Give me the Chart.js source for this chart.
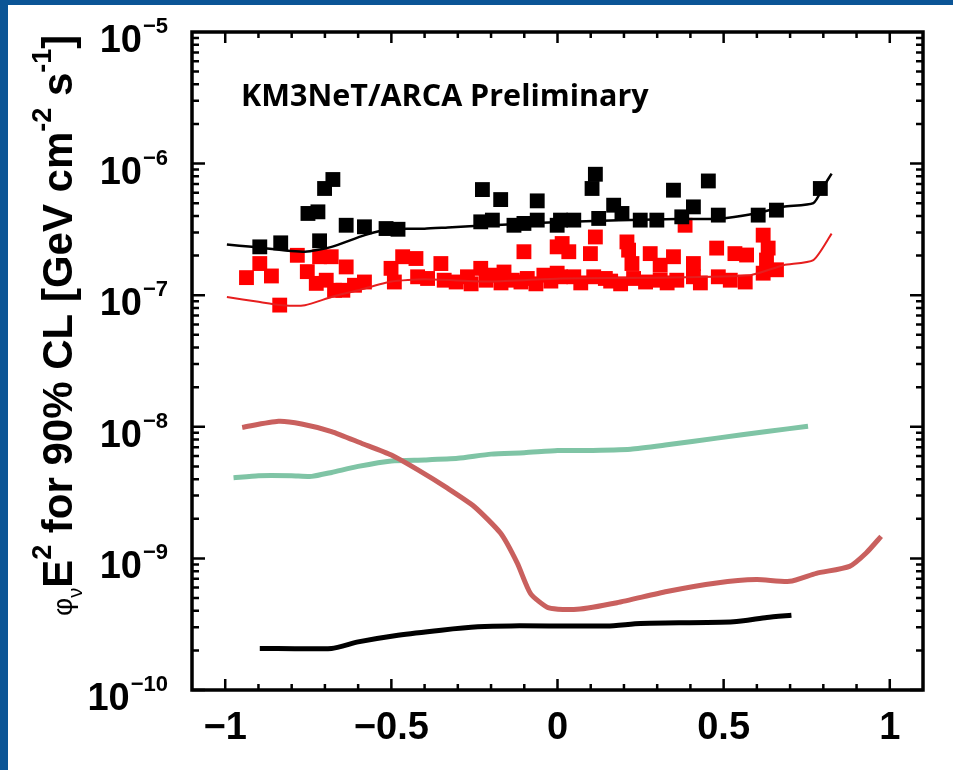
<!DOCTYPE html>
<html>
<head>
<meta charset="utf-8">
<script src="https://cdn.jsdelivr.net/npm/chart.js@4.4.0/dist/chart.umd.min.js"></script>
<style>
html,body{margin:0;padding:0;background:#fff;}
#wrap{width:953px;height:770px;position:relative;}
</style>
</head>
<body>
<div id="wrap"><canvas id="limitsChart"></canvas></div>
<script>
// ticks / labels
const xTickValues = [-1, -0.5, 0, 0.5, 1];
const xTickLabels = ["\u22121", "\u22120.5", "0", "0.5", "1"];
const yTickExps = [-10, -9, -8, -7, -6, -5];

// upper limits, black squares
const blackSqX = [-0.896,-0.833,-0.751,-0.721,-0.701,-0.676,-0.716,-0.636,-0.581,-0.516,-0.480,
  -0.226,-0.171,-0.231,-0.196,-0.131,-0.101,-0.061,-0.061,-0.001,
  0.009,0.049,0.114,0.104,0.124,0.169,0.194,0.249,0.299,0.349,0.374,0.409,0.454,0.484,0.604,0.659,0.791];
const blackSqY = [2.33e-7,2.50e-7,4.18e-7,4.30e-7,6.47e-7,7.57e-7,2.59e-7,3.40e-7,3.31e-7,3.21e-7,3.17e-7,
  6.35e-7,5.33e-7,3.61e-7,3.72e-7,3.40e-7,3.51e-7,5.21e-7,3.72e-7,3.40e-7,
  3.72e-7,3.72e-7,8.30e-7,6.47e-7,3.83e-7,4.83e-7,4.18e-7,3.72e-7,3.72e-7,6.28e-7,3.94e-7,4.69e-7,7.38e-7,4.06e-7,4.06e-7,4.43e-7,6.47e-7];

// upper limits, red squares
const redSqX = [-0.936,-0.896,-0.861,-0.836,-0.783,-0.753,-0.716,-0.681,-0.726,-0.696,-0.671,-0.636,-0.646,-0.611,-0.581,
  -0.501,-0.491,-0.466,-0.426,-0.421,-0.391,-0.351,-0.341,-0.271,-0.231,-0.201,-0.161,-0.136,-0.101,-0.091,-0.041,-0.001,-0.001,
  0.009,0.014,0.034,0.049,0.099,0.114,0.109,0.144,0.209,0.214,0.224,0.229,0.279,0.309,0.309,0.349,0.384,0.359,0.409,0.409,
  0.479,0.484,0.534,0.569,0.619,0.634,0.629,0.619,0.659,
  -0.305,-0.26,-0.215,-0.17,-0.11,-0.065,-0.02,0.07,0.16,0.19,0.265,0.43,0.52,0.565,0.33];
const redSqY = [1.36e-7,1.74e-7,1.40e-7,8.41e-8,2.01e-7,1.51e-7,1.96e-7,1.96e-7,1.23e-7,1.30e-7,1.09e-7,1.64e-7,1.09e-7,1.19e-7,1.26e-7,
  1.60e-7,1.26e-7,1.96e-7,1.90e-7,1.38e-7,1.34e-7,1.74e-7,1.30e-7,1.38e-7,1.60e-7,1.42e-7,1.50e-7,1.30e-7,2.14e-7,1.34e-7,1.42e-7,2.33e-7,1.47e-7,
  1.38e-7,2.47e-7,2.14e-7,1.38e-7,2.07e-7,2.77e-7,1.38e-7,1.34e-7,2.54e-7,2.20e-7,1.74e-7,1.34e-7,2.07e-7,1.69e-7,1.30e-7,1.96e-7,3.40e-7,1.30e-7,1.74e-7,1.38e-7,
  2.28e-7,1.38e-7,2.07e-7,2.02e-7,2.86e-7,2.28e-7,1.85e-7,1.47e-7,1.56e-7,
  1.26e-7,1.22e-7,1.30e-7,1.24e-7,1.26e-7,1.22e-7,1.28e-7,1.24e-7,1.28e-7,1.22e-7,1.26e-7,1.24e-7,1.30e-7,1.26e-7,1.24e-7];

// sensitivity, thin black
const blackSensX = [-0.995,-0.92,-0.76,-0.68,-0.58,-0.50,-0.40,-0.33,-0.20,-0.10,0.01,0.36,0.48,0.60,0.68,0.77,0.80,0.825];
const blackSensY = [2.43e-7,2.33e-7,2.14e-7,2.33e-7,2.86e-7,3.18e-7,3.20e-7,3.27e-7,3.40e-7,3.50e-7,3.60e-7,3.80e-7,3.80e-7,4.20e-7,4.70e-7,5.0e-7,6.65e-7,8.4e-7];

// sensitivity, thin red
const redSensX = [-0.995,-0.90,-0.83,-0.76,-0.68,-0.60,-0.50,-0.40,-0.20,0.01,0.30,0.58,0.68,0.77,0.825];
const redSensY = [9.7e-8,8.9e-8,8.4e-8,8.4e-8,9.7e-8,1.09e-7,1.27e-7,1.32e-7,1.27e-7,1.34e-7,1.36e-7,1.42e-7,1.69e-7,1.85e-7,2.94e-7];

// thick curves
const salmonX = [-0.949,-0.84,-0.77,-0.68,-0.59,-0.50,-0.42,-0.33,-0.25,-0.171,-0.121,-0.081,-0.026,0.059,0.179,0.329,0.479,0.599,0.699,0.779,0.879,0.929,0.974];
const salmonY = [9.9e-9,1.1e-8,1.05e-8,9.2e-9,7.5e-9,6.1e-9,4.7e-9,3.4e-9,2.47e-9,1.55e-9,9.2e-10,5.4e-10,4.2e-10,4.1e-10,4.6e-10,5.6e-10,6.5e-10,6.9e-10,6.7e-10,7.7e-10,8.7e-10,1.1e-9,1.47e-9];

const greenX = [-0.975,-0.90,-0.80,-0.74,-0.68,-0.60,-0.50,-0.40,-0.30,-0.20,-0.10,0.00,0.08,0.22,0.33,0.48,0.63,0.754];
const greenY = [4.1e-9,4.25e-9,4.25e-9,4.2e-9,4.5e-9,5.0e-9,5.5e-9,5.6e-9,5.76e-9,6.2e-9,6.35e-9,6.6e-9,6.6e-9,6.76e-9,7.3e-9,8.2e-9,9.2e-9,1.01e-8];

const lowBlackX = [-0.896,-0.68,-0.60,-0.48,-0.35,-0.24,-0.14,0.15,0.25,0.53,0.63,0.704];
const lowBlackY = [2.07e-10,2.07e-10,2.32e-10,2.61e-10,2.85e-10,3.02e-10,3.07e-10,3.07e-10,3.2e-10,3.3e-10,3.56e-10,3.7e-10];

function pts(xs, ys){
    return xs.map(function(x, i){ return {x: x, y: ys[i]}; });
}

function lineSet(xs, ys, color, width, order){
    return {
        data: pts(xs, ys),
        showLine: true,
        borderColor: color,
        borderWidth: width,
        pointRadius: 0,
        tension: 0.2,
        order: order
    };
}

function squareSet(xs, ys, color, order){
    return {
        data: pts(xs, ys),
        showLine: false,
        pointStyle: "rect",
        pointRadius: 10.5,
        pointBorderWidth: 0,
        backgroundColor: color,
        borderColor: color,
        order: order
    };
}

const SANS = "'Liberation Sans', Arial, sans-serif";

const framePlugin = {
    id: "frame",
    beforeDraw(chart){
        const ctx = chart.ctx;
        ctx.save();
        ctx.fillStyle = "#ffffff";
        ctx.fillRect(0, 0, chart.width, chart.height);
        ctx.fillStyle = "#0b5596";
        ctx.fillRect(0, 0, chart.width, 5);
        ctx.fillRect(0, 0, 8, chart.height);
        ctx.restore();
    },
    afterDraw(chart){
        const ctx = chart.ctx;
        const a = chart.chartArea;
        const xs = chart.scales.x, ys = chart.scales.y;
        ctx.save();
        ctx.strokeStyle = "#000";
        ctx.lineWidth = 3.5;
        ctx.strokeRect(a.left, a.top, a.right - a.left, a.bottom - a.top);

        // x ticks, top and bottom
        ctx.lineWidth = 2.5;
        ctx.beginPath();
        for (let i = -10; i <= 10; i++) {
            const px = xs.getPixelForValue(i / 10);
            const len = (i % 5 === 0) ? 11 : 6;
            ctx.moveTo(px, a.bottom); ctx.lineTo(px, a.bottom - len);
            ctx.moveTo(px, a.top); ctx.lineTo(px, a.top + len);
        }
        // y ticks, left and right
        for (let e = -10; e <= -6; e++) {
            for (let m = 1; m <= 9; m++) {
                const py = ys.getPixelForValue(m * Math.pow(10, e));
                const len = (m === 1) ? 13 : 7;
                ctx.moveTo(a.left, py); ctx.lineTo(a.left + len, py);
                ctx.moveTo(a.right, py); ctx.lineTo(a.right - len, py);
            }
        }
        ctx.stroke();

        // x tick labels
        ctx.fillStyle = "#000";
        ctx.font = "bold 38px " + SANS;
        ctx.textAlign = "center";
        ctx.textBaseline = "alphabetic";
        xTickValues.forEach(function(v, i){
            ctx.fillText(xTickLabels[i], xs.getPixelForValue(v), 739);
        });

        // y tick labels 10^n
        yTickExps.forEach(function(e){
            const py = ys.getPixelForValue(Math.pow(10, e));
            const sup = "\u2212" + Math.abs(e);
            ctx.textAlign = "right";
            ctx.font = "bold 22px " + SANS;
            const supW = ctx.measureText(sup).width;
            ctx.fillText(sup, 168, py + 1);
            ctx.font = "bold 38px " + SANS;
            ctx.fillText("10", 168 - supW - 1, py + 20);
        });

        // y axis title
        ctx.save();
        ctx.translate(72, 616);
        ctx.rotate(-Math.PI / 2);
        ctx.textAlign = "left";
        const parts = [
            {t: "\u03c6", f: "28px " + SANS, dy: 0},
            {t: "\u03bd", f: "20px " + SANS, dy: 10},
            {t: "E", f: "bold 42px " + SANS, dy: 0},
            {t: "2", f: "bold 27px " + SANS, dy: -21},
            {t: " for 90% CL [GeV cm", f: "bold 42px " + SANS, dy: 0},
            {t: "-2", f: "bold 27px " + SANS, dy: -21},
            {t: " s", f: "bold 42px " + SANS, dy: 0},
            {t: "-1", f: "bold 27px " + SANS, dy: -21},
            {t: "]", f: "bold 42px " + SANS, dy: 0}
        ];
        let cx = 0;
        parts.forEach(function(p){
            ctx.font = p.f;
            ctx.fillText(p.t, cx, p.dy);
            cx += ctx.measureText(p.t).width;
        });
        ctx.restore();

        // label inside the frame
        ctx.textAlign = "left";
        ctx.font = "bold 30.5px 'Open Sans', sans-serif";
        ctx.fillText("KM3NeT/ARCA Preliminary", 241, 106);
        ctx.restore();
    }
};

new Chart(
document.getElementById("limitsChart"),
{
    type: "scatter",
    data: {
        datasets: [
            lineSet(salmonX, salmonY, "#c9605e", 5, 9),
            lineSet(greenX, greenY, "#7fc4a5", 5, 9),
            lineSet(lowBlackX, lowBlackY, "#000000", 5, 9),
            squareSet(redSqX, redSqY, "#ff0000", 6),
            lineSet(redSensX, redSensY, "#e61e1e", 2, 5),
            squareSet(blackSqX, blackSqY, "#000000", 4),
            lineSet(blackSensX, blackSensY, "#000000", 2.5, 3)
        ]
    },
    options: {
        responsive: true,
        maintainAspectRatio: false,
        animation: false,
        layout: { padding: { left: 192, right: 30, top: 32, bottom: 80 } },
        plugins: { legend: { display: false }, tooltip: { enabled: false } },
        scales: {
            x: { type: "linear", min: -1.1, max: 1.1, display: false },
            y: { type: "logarithmic", min: 1e-10, max: 1e-5, display: false }
        }
    },
    plugins: [framePlugin]
});
</script>
</body>
</html>
